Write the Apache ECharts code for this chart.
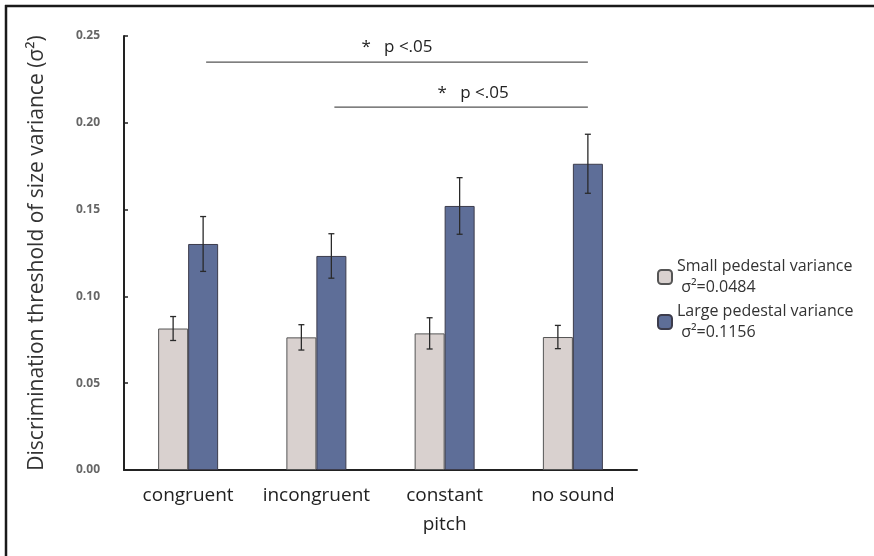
<!DOCTYPE html>
<html>
<head>
<meta charset="utf-8">
<script src="https://cdn.jsdelivr.net/npm/echarts@6/dist/echarts.min.js"></script>
<style>
html,body{margin:0;padding:0;background:#fff;}
#chart{width:874px;height:556px;}
</style>
</head>
<body>
<div id="chart"></div>
<script>
// ---- data ----
var categories = ['congruent', 'incongruent', 'constant\npitch', 'no sound'];
var seriesNames = ['Small pedestal variance\n σ²=0.0484', 'Large pedestal variance\n σ²=0.1156'];
var smallMeans = [0.0815, 0.0764, 0.0787, 0.0766];
var smallErrs  = [0.0069, 0.0073, 0.0090, 0.0067];
var largeMeans = [0.1302, 0.1233, 0.1521, 0.1764];
var largeErrs  = [0.0158, 0.0128, 0.0163, 0.0170];
var yTicks = [0, 0.05, 0.10, 0.15, 0.20, 0.25];
// significance brackets: [fromCategory, toCategory, yValue, label]
var sigFrom  = [0, 1];
var sigTo    = [3, 3];
var sigY     = [0.235, 0.209];
var sigLabel = ['*   p <.05', '*   p <.05'];

var BAR_W = 30;
var HALF = BAR_W / 2;
var FONT = '"Open Sans", Lato, sans-serif';

var errData = [];
for (var i = 0; i < categories.length; i++) {
  errData.push([i, smallMeans[i], smallErrs[i], -1]);
  errData.push([i, largeMeans[i], largeErrs[i], 1]);
}
var sigData = [];
for (var k = 0; k < sigY.length; k++) sigData.push([sigFrom[k], sigTo[k], sigY[k], k]);

var chart = echarts.init(document.getElementById('chart'), null, {renderer: 'canvas'});
chart.setOption({
  animation: false,
  backgroundColor: '#fff',
  grid: {left: 124, right: 237, top: 36, bottom: 86, containLabel: false},
  legend: {
    orient: 'vertical',
    left: 652,
    top: 251,
    itemWidth: 14,
    itemHeight: 14,
    itemGap: 3,
    data: seriesNames,
    textStyle: {fontFamily: FONT, fontSize: 16, color: '#333', lineHeight: 21}
  },
  xAxis: {
    type: 'category',
    data: categories,
    axisLine: {lineStyle: {color: '#222', width: 2}},
    axisTick: {show: false},
    axisLabel: {interval: 0, fontFamily: FONT, fontSize: 19, color: '#222', margin: 11, lineHeight: 29}
  },
  yAxis: {
    type: 'value',
    min: yTicks[0],
    max: yTicks[yTicks.length - 1],
    interval: 0.05,
    name: 'Discrimination threshold of size variance (σ²)',
    nameLocation: 'middle',
    nameGap: 76,
    nameRotate: 90,
    nameTextStyle: {fontFamily: FONT, fontSize: 21, color: '#333'},
    splitLine: {show: false},
    axisLine: {show: true, lineStyle: {color: '#222', width: 2}},
    axisTick: {show: true, inside: true, length: 4, lineStyle: {color: '#222', width: 1.5}},
    axisLabel: {
      fontFamily: FONT, fontSize: 12, fontWeight: 'bold', color: '#666', margin: 24,
      formatter: function (v) { return v.toFixed(2); }
    }
  },
  series: [
    {
      name: seriesNames[0], type: 'bar', data: smallMeans, barWidth: BAR_W, barGap: '0%',
      itemStyle: {color: '#d9d1cf', borderColor: '#555', borderWidth: 1}
    },
    {
      name: seriesNames[1], type: 'bar', data: largeMeans, barWidth: BAR_W, barGap: '0%',
      itemStyle: {color: '#5e6e98', borderColor: '#3c3c4c', borderWidth: 1}
    },
    {
      type: 'custom', data: errData, z: 10, clip: false, silent: true,
      renderItem: function (params, api) {
        var idx = api.value(0), m = api.value(1), e = api.value(2), side = api.value(3);
        var top = api.coord([idx, m + e]);
        var bot = api.coord([idx, m - e]);
        var x = top[0] + side * HALF;
        var cw = 3;
        var st = {stroke: '#2a2a2a', lineWidth: 1.3};
        return {type: 'group', children: [
          {type: 'line', shape: {x1: x, y1: top[1], x2: x, y2: bot[1]}, style: st},
          {type: 'line', shape: {x1: x - cw, y1: top[1], x2: x + cw, y2: top[1]}, style: st},
          {type: 'line', shape: {x1: x - cw, y1: bot[1], x2: x + cw, y2: bot[1]}, style: st}
        ]};
      }
    },
    {
      type: 'custom', data: sigData, z: 10, clip: false, silent: true,
      renderItem: function (params, api) {
        var a = api.coord([api.value(0), api.value(2)]);
        var b = api.coord([api.value(1), api.value(2)]);
        var x1 = a[0] + HALF + 3, x2 = b[0] + HALF;
        var lab = sigLabel[api.value(3)];
        return {type: 'group', children: [
          {type: 'line', shape: {x1: x1, y1: a[1], x2: x2, y2: a[1]}, style: {stroke: '#555', lineWidth: 1.2}},
          {type: 'text', style: {text: lab, x: (x1 + x2) / 2 + (api.value(3) === 1 ? 12 : 0), y: a[1] - 6,
            textAlign: 'center', textVerticalAlign: 'bottom', font: '17px ' + FONT, fill: '#222'}}
        ]};
      }
    }
  ],
  graphic: [
    {type: 'line', shape: {x1: 5, y1: 6, x2: 874, y2: 6}, style: {stroke: '#1a1a1a', lineWidth: 2.5}},
    {type: 'line', shape: {x1: 6, y1: 5, x2: 6, y2: 556}, style: {stroke: '#1a1a1a', lineWidth: 2.5}}
  ]
});
</script>
</body>
</html>
